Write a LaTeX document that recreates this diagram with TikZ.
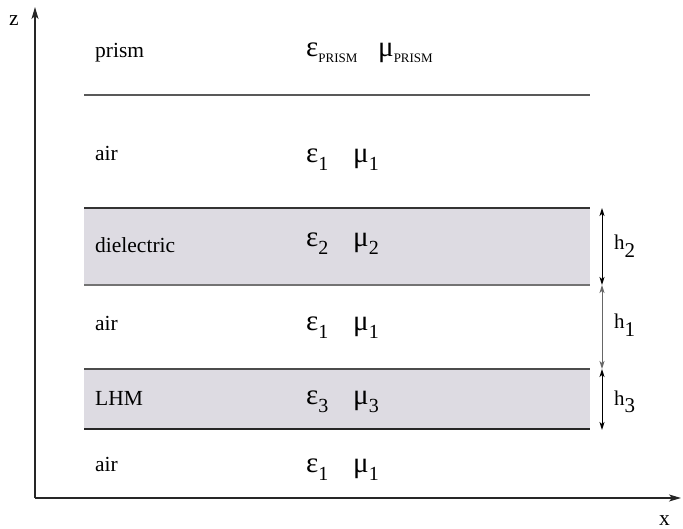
\documentclass[tikz,border=0pt]{standalone}
\usepackage{fontspec}
\setmainfont{Liberation Serif}
\usetikzlibrary{arrows.meta}
\definecolor{layergray}{RGB}{221,219,226}
\newcommand{\grk}[2]{{\fontsize{29}{30}\selectfont #1}\raisebox{-8pt}{\fontsize{20}{21}\selectfont #2}}
\newcommand{\grkp}[1]{{\fontsize{29}{30}\selectfont #1}\raisebox{-6pt}{\fontsize{13}{14}\selectfont PRISM}}
\newcommand{\hsub}[1]{{\fontsize{21}{22}\selectfont h\raisebox{-8pt}{#1}}}
\begin{document}
\begin{tikzpicture}[x=1pt,y=-1pt,
  lbl/.style={anchor=base west,inner sep=0pt,font=\fontsize{21.5}{22}\selectfont},
  grklbl/.style={anchor=base west,inner sep=0pt},
  axisline/.style={line width=1.2pt,draw=black!85,-{Stealth[length=12pt,width=7pt,inset=3pt]}},
  hline/.style={line width=1pt,{Stealth[length=8pt,width=5pt,inset=2pt]}-{Stealth[length=8pt,width=5pt,inset=2pt]}},
  layer/.style={fill=layergray,draw=none}]
\useasboundingbox (0,0) rectangle (683,529);
% layers
\fill[layer] (84,208) rectangle (590,285);
\fill[layer] (84,369) rectangle (590,429);
\draw[line width=1.2pt,black!65] (84,95) -- (590,95);
\draw[line width=1.2pt,black!80] (84,208) -- (590,208);
\draw[line width=1.2pt,black!55] (84,285) -- (590,285);
\draw[line width=1.2pt,black!70] (84,369) -- (590,369);
\draw[line width=1.2pt,black!85] (84,429) -- (590,429);
% axes
\coordinate (O) at (35,498);
\coordinate (ztip) at (35,7);
\coordinate (xtip) at (681,498);
\draw[axisline] (O) -- (ztip);
\draw[axisline] (O) -- (xtip);
\node[lbl] (zl) at (9,26) {z};
\node[lbl] (xl) at (659,525) {x};
% thickness arrows
\coordinate (a1) at (602,208);
\coordinate (a2) at (602,285);
\coordinate (a3) at (602,369);
\coordinate (a4) at (602,430);
\draw[hline] (a1) -- (a2);
\draw[hline,black!60] (a2) -- (a3);
\draw[hline] (a3) -- (a4);
\node[grklbl] (h2) at (614,250) {\hsub{2}};
\node[grklbl] (h1) at (614,329) {\hsub{1}};
\node[grklbl] (h3) at (614,405) {\hsub{3}};
% layer names
\node[lbl] (n0) at (95,58) {prism};
\node[lbl] (n1) at (95,161) {air};
\node[lbl] (n2) at (95,253) {dielectric};
\node[lbl] (n3) at (95,331) {air};
\node[lbl] (n4) at (95,406) {LHM};
\node[lbl] (n5) at (95,471) {air};
% material parameters
\node[grklbl] (e0) at (306,57) {\grkp{ε}};
\node[grklbl] (m0) at (378,57) {\grkp{μ}};
\node[grklbl] (e1) at (306,163) {\grk{ε}{1}};
\node[grklbl] (m1) at (353,163) {\grk{μ}{1}};
\node[grklbl] (e2) at (306,247) {\grk{ε}{2}};
\node[grklbl] (m2) at (353,247) {\grk{μ}{2}};
\node[grklbl] (e3) at (306,331) {\grk{ε}{1}};
\node[grklbl] (m3) at (353,331) {\grk{μ}{1}};
\node[grklbl] (e4) at (306,404) {\grk{ε}{3}};
\node[grklbl] (m4) at (353,404) {\grk{μ}{3}};
\node[grklbl] (e5) at (306,472) {\grk{ε}{1}};
\node[grklbl] (m5) at (353,472) {\grk{μ}{1}};
\end{tikzpicture}
\end{document}
